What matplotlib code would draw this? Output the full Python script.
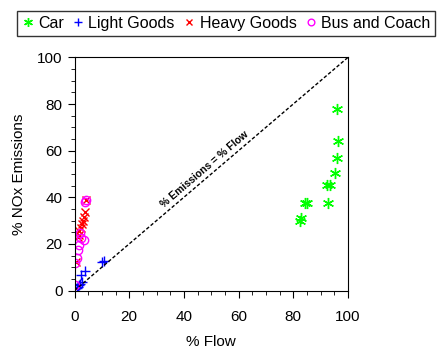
import matplotlib
matplotlib.use("Agg")
import matplotlib.pyplot as plt
from matplotlib.ticker import MultipleLocator

plt.rcParams['font.family'] = ['Liberation Sans', 'DejaVu Sans']
plt.rcParams['font.size'] = 10

# % flow vs % NOx emissions by vehicle type
car_flow = [96.1, 96.5, 96.1, 95.2, 92.2, 93.4, 84.3, 85.0, 92.6, 82.7, 82.5]
car_nox = [77.7, 64.1, 56.7, 50.2, 45.2, 45.2, 37.4, 37.4, 37.4, 31.2, 29.8]

lgv_flow = [10.6, 10.2, 3.9, 2.2, 2.6, 1.8, 1.2, 0.8, 2.0]
lgv_nox = [12.6, 12.1, 8.4, 6.8, 3.5, 2.2, 1.5, 1.0, 2.6]

hgv_flow = [4.2, 3.8, 3.4, 3.0, 2.6, 2.2, 1.8, 1.5, 1.2, 0.4]
hgv_nox = [38.8, 33.5, 31.6, 30.0, 28.6, 27.0, 25.6, 24.0, 23.0, 12.2]

bus_flow = [4.2, 4.0, 2.0, 3.5, 2.2, 1.8, 1.4, 1.0, 0.3, 0.1]
bus_nox = [38.8, 37.8, 24.5, 21.6, 22.6, 19.5, 17.4, 13.8, 11.9, 2.5]

fig = plt.figure(figsize=(4.41, 3.5), dpi=100)
ax = fig.add_axes([0.169, 0.170, 0.620, 0.666])

ax.plot(car_flow, car_nox, ls='none', marker=(6, 2, 0), ms=8, mew=1,
        color='#00ff00', label='Car')
ax.plot(lgv_flow, lgv_nox, ls='none', marker='+', ms=7, mew=1,
        color='#0000ff', label='Light Goods')
ax.plot(hgv_flow, hgv_nox, ls='none', marker='x', ms=6, mew=1,
        color='#ff0000', label='Heavy Goods')
ax.plot(bus_flow, bus_nox, ls='none', marker='o', ms=6, mew=1,
        color='#ff00ff', fillstyle='none', label='Bus and Coach')

ax.plot([0, 100], [0, 100], color='black', ls=(0, (2.5, 1.5)), lw=1)
ax.text(47.5, 52, '% Emissions = % Flow', rotation=40.5, fontsize=7.5,
        fontweight='bold', ha='center', va='center', rotation_mode='anchor')

ax.set_xlim(0, 100)
ax.set_ylim(0, 100)
ax.xaxis.set_major_locator(MultipleLocator(20))
ax.yaxis.set_major_locator(MultipleLocator(20))
ax.xaxis.set_minor_locator(MultipleLocator(5))
ax.yaxis.set_minor_locator(MultipleLocator(5))
ax.tick_params(which='major', direction='out', length=5, labelsize=11)
ax.tick_params(which='minor', direction='out', length=3)
ax.tick_params(axis='x', which='major', pad=9)
ax.tick_params(top=False, right=False, which='both')

ax.set_xlabel('% Flow', fontsize=11, labelpad=8)
ax.set_ylabel('% NOx Emissions', fontsize=11, labelpad=8)

leg = fig.legend(loc='center', bbox_to_anchor=(0.513, 0.933), ncol=4,
                 fontsize=11.5, frameon=True, fancybox=False, handlelength=0.7,
                 handletextpad=0.3, columnspacing=0.55, borderpad=0.3,
                 borderaxespad=0, markerscale=0.8)
leg.get_frame().set_edgecolor('black')
leg.get_frame().set_linewidth(1)

fig.savefig('out.png', dpi=100)
